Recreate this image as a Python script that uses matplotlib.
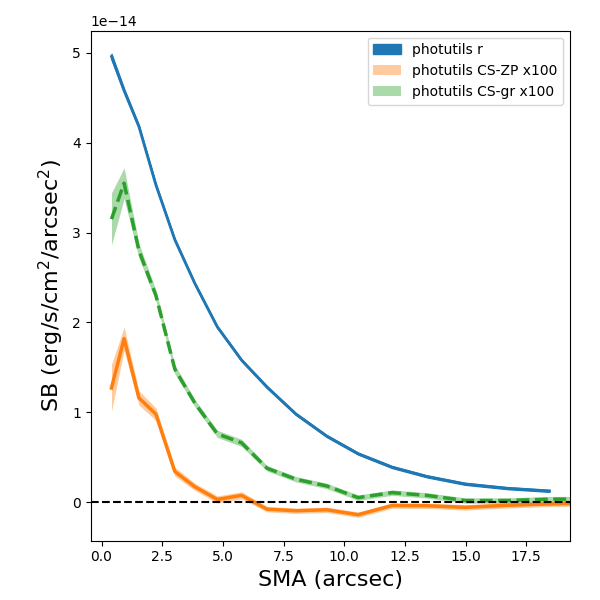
#!/usr/bin/python3
# -*- coding: utf-8 -*-

import numpy as np
import matplotlib
matplotlib.use("Agg")
import matplotlib.pyplot as plt

# semi-major axis (arcsec)
sma = [0.41, 0.93, 1.54, 2.24, 3.02, 3.85, 4.77, 5.77, 6.82, 8.01,
       9.28, 10.57, 11.97, 13.41, 14.98, 16.71, 18.45, 20.3]

# surface brightness, units of 1e-14
sb_r = [4.96, 4.58, 4.18, 3.53, 2.92, 2.43, 1.95, 1.58, 1.28, 0.98,
        0.735, 0.54, 0.39, 0.286, 0.203, 0.155, 0.125]
sb_r_err = [0.03, 0.02, 0.015, 0.012, 0.01, 0.01, 0.01, 0.01, 0.01, 0.01,
            0.01, 0.01, 0.01, 0.01, 0.01, 0.01, 0.01]

sb_zp = [1.27, 1.82, 1.16, 0.98, 0.34, 0.17, 0.03, 0.075, -0.078, -0.096,
         -0.085, -0.14, -0.038, -0.04, -0.058, -0.035, -0.02, -0.01]
sb_zp_err = [0.26, 0.13, 0.08, 0.07, 0.05, 0.04, 0.04, 0.04, 0.03, 0.03,
             0.03, 0.03, 0.03, 0.03, 0.03, 0.03, 0.03, 0.03]

sb_gr = [3.15, 3.55, 2.80, 2.30, 1.48, 1.10, 0.76, 0.66, 0.377, 0.255,
         0.18, 0.05, 0.106, 0.075, 0.018, 0.018, 0.033, 0.035]
sb_gr_err = [0.29, 0.17, 0.08, 0.06, 0.05, 0.04, 0.04, 0.04, 0.03, 0.03,
             0.03, 0.03, 0.03, 0.03, 0.03, 0.03, 0.03, 0.03]


def save_img():
    fig = plt.figure(figsize=(6, 6), dpi=100)
    ax = fig.add_axes([0.151, 0.099, 0.799, 0.85])

    x = np.array(sma)
    xr = x[:len(sb_r)]
    r = np.array(sb_r) * 1e-14
    re = np.array(sb_r_err) * 1e-14
    zp = np.array(sb_zp) * 1e-14
    zpe = np.array(sb_zp_err) * 1e-14
    gr = np.array(sb_gr) * 1e-14
    gre = np.array(sb_gr_err) * 1e-14

    ax.fill_between(xr, r - re, r + re, color='C0', label='photutils r')
    ax.plot(xr, r, color='C0', lw=2)

    ax.fill_between(x, zp - zpe, zp + zpe, color='C1', alpha=0.4,
                    lw=0, label='photutils CS-ZP x100')
    ax.plot(x, zp, color='C1', lw=2.5)

    ax.fill_between(x, gr - gre, gr + gre, color='C2', alpha=0.4,
                    lw=0, label='photutils CS-gr x100')
    ax.plot(x, gr, color='C2', lw=2.5, ls='--')

    ax.axhline(0, color='k', ls='--', lw=1.5)

    ax.set_xlim(-0.45, 19.3)
    ax.set_xlabel('SMA (arcsec)', fontsize=16)
    ax.set_ylabel('SB (erg/s/cm$^2$/arcsec$^2$)', fontsize=16)
    ax.legend(loc='upper right')

    fig.savefig('out.png')


def main():
    save_img()


if __name__ == '__main__':
    main()
